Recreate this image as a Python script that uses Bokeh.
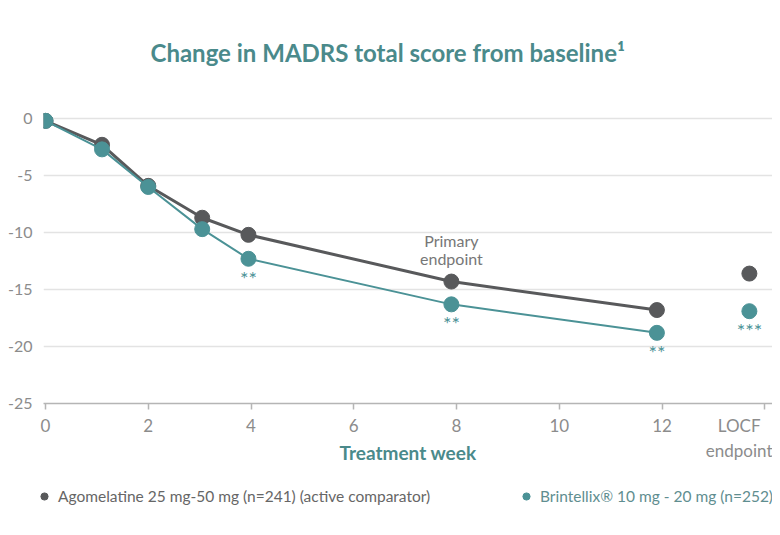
from bokeh.plotting import figure
from bokeh.models import Legend, LegendItem, FixedTicker, ColumnDataSource
from bokeh.layouts import column
from bokeh.core.properties import value
from bokeh.embed import file_html
from bokeh.resources import INLINE

# ---- data ----
weeks = [0, 1.1, 2, 3.05, 3.95, 7.9, 11.9]
agomelatine = [-0.2, -2.3, -5.9, -8.7, -10.2, -14.3, -16.8]
brintellix = [-0.2, -2.7, -6.0, -9.7, -12.3, -16.3, -18.8]
locf_week = 13.7
agomelatine_locf = -13.6
brintellix_locf = -16.9
sig_weeks = [3.95, 7.9, 11.9, 13.7]
sig_values = [-12.3, -16.3, -18.8, -16.9]
sig_marks = ["**", "**", "**", "***"]
primary_week = [7.9]
primary_value = [-14.3]
primary_text = ["Primary\nendpoint"]
x_ticks = [0, 2, 4, 6, 8, 10, 12, 14]
x_tick_labels = ["0", "2", "4", "6", "8", "10", "12", "LOCF\nendpoint"]
y_ticks = [0, -5, -10, -15, -20, -25]
y_tick_labels = ["0", "-5", "-10", "-15", "-20", "-25"]
title_text = "Change in MADRS total score from baseline\u00b9"
x_title = "Treatment week"
ago_label = "Agomelatine 25 mg-50 mg (n=241) (active comparator)"
bri_label = "Brintellix\u00ae 10 mg - 20 mg (n=252)"

GRAY = "#58595b"
TEAL = "#4b9296"
TITLE_TEAL = "#4a8a8b"
TICK_GRAY = "#8c8c8c"
FONT = "Lato"

p = figure(width=772, height=478, output_backend="svg", toolbar_location=None,
           x_range=(-0.039, 14.15), y_range=(-25, 1.5),
           min_border_left=43, min_border_right=0, min_border_top=100,
           min_border_bottom=75, title=title_text)
p.outline_line_color = None
p.background_fill_color = "white"
p.border_fill_color = "white"
p.frame_align = False

p.title.align = "left"
p.title.offset = 107
p.title.text_font = FONT
p.title.text_font_size = "24px"
p.title.text_font_style = "bold"
p.title.text_color = TITLE_TEAL
p.title.standoff = 70

# axes
p.xaxis.ticker = FixedTicker(ticks=x_ticks)
p.xaxis.major_label_overrides = {t: l for t, l in zip(x_ticks, x_tick_labels)}
p.xaxis.axis_line_color = "#b5b5b5"
p.xaxis.axis_line_width = 1.5
p.xaxis.major_tick_line_color = "#b5b5b5"
p.xaxis.major_tick_line_width = 1.5
p.xaxis.major_tick_out = 6
p.xaxis.major_tick_in = 0
p.xaxis.minor_tick_line_color = None
p.xaxis.minor_tick_out = 0
p.xaxis.major_label_text_font = FONT
p.xaxis.major_label_text_font_size = "17px"
p.xaxis.major_label_text_color = TICK_GRAY
p.xaxis.major_label_standoff = 5
p.xaxis.axis_label = x_title
p.xaxis.axis_label_text_font = FONT
p.xaxis.axis_label_text_font_size = "19px"
p.xaxis.axis_label_text_font_style = "bold"
p.xaxis.axis_label_text_color = TITLE_TEAL
p.xaxis.axis_label_standoff = -23

p.yaxis.ticker = FixedTicker(ticks=y_ticks)
p.yaxis.major_label_overrides = {t: l for t, l in zip(y_ticks, y_tick_labels)}
p.yaxis.axis_line_color = None
p.yaxis.major_tick_line_color = None
p.yaxis.minor_tick_line_color = None
p.yaxis.major_tick_out = 0
p.yaxis.minor_tick_out = 0
p.yaxis.major_label_text_font = FONT
p.yaxis.major_label_text_font_size = "16px"
p.yaxis.major_label_text_color = TICK_GRAY
p.yaxis.major_label_standoff = 11

p.xgrid.grid_line_color = None
p.ygrid.ticker = FixedTicker(ticks=y_ticks)
p.ygrid.grid_line_color = "#e3e3e3"
p.ygrid.grid_line_width = 1.5

# series
p.line(weeks, agomelatine, line_color=GRAY, line_width=3)
p.scatter(weeks + [locf_week], agomelatine + [agomelatine_locf],
          size=15, fill_color=GRAY, line_color=GRAY)
p.line(weeks, brintellix, line_color=TEAL, line_width=2)
p.scatter(weeks + [locf_week], brintellix + [brintellix_locf],
          size=15, fill_color=TEAL, line_color=TEAL)

# annotations
sig_src = ColumnDataSource(dict(x=sig_weeks, y=sig_values, t=sig_marks))
p.text(x="x", y="y", text="t", source=sig_src, y_offset=7,
       text_align="center", text_baseline="top", text_color=TEAL,
       text_font=value(FONT), text_font_size="20px")
prim_src = ColumnDataSource(dict(x=primary_week, y=primary_value, t=primary_text))
p.text(x="x", y="y", text="t", source=prim_src, y_offset=-14,
       text_align="center", text_baseline="bottom", text_color="#777777",
       text_font=value(FONT), text_font_size="16px", text_line_height=0.92)

# legend strip (separate figure below the chart)
lg_fig = figure(width=772, height=40, output_backend="svg", toolbar_location=None,
                x_range=(0, 1), y_range=(0, 1), min_border=0)
lg_fig.axis.visible = False
lg_fig.grid.visible = False
lg_fig.outline_line_color = None
lg_fig.frame_align = False
# legend key renderers (single point kept outside the visible range)
ago_key = lg_fig.scatter(x=[-10], y=[-10], fill_color=GRAY, line_color=GRAY)
bri_key = lg_fig.scatter(x=[-10], y=[-10], fill_color=TEAL, line_color=TEAL)

for label, rend, color, loc in [(ago_label, ago_key, "#666666", (35, 13)),
                                (bri_label, bri_key, "#5f8e90", (517, 13))]:
    lg = Legend(items=[LegendItem(label=label, renderers=[rend])],
                location=loc, orientation="horizontal",
                padding=0, margin=0, border_line_color=None,
                background_fill_alpha=0, glyph_width=18, glyph_height=18,
                label_height=18, label_standoff=5,
                label_text_font=FONT, label_text_font_size="15.5px",
                label_text_color=color)
    lg_fig.add_layout(lg, "center")

open("out.html", "w").write(file_html(column(p, lg_fig, spacing=0), INLINE))
